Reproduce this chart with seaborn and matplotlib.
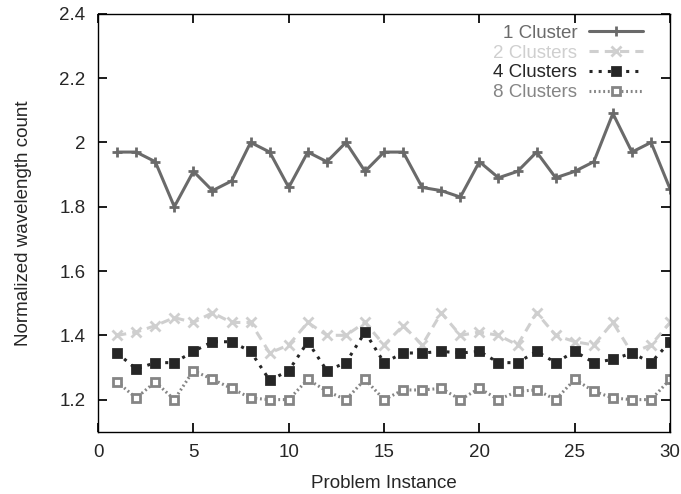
import matplotlib
matplotlib.use("Agg")
import matplotlib.pyplot as plt
from matplotlib.ticker import FormatStrFormatter
import numpy as np
import pandas as pd
import seaborn as sns

sns.set_theme(style="ticks")
plt.rcParams['font.family'] = ['Liberation Sans', 'DejaVu Sans']

instances = list(range(1, 31))
one_cluster = [1.97, 1.97, 1.94, 1.80, 1.91, 1.85, 1.88, 2.00, 1.97, 1.86,
               1.97, 1.94, 2.00, 1.91, 1.97, 1.97, 1.86, 1.85, 1.83, 1.94,
               1.89, 1.91, 1.97, 1.89, 1.91, 1.94, 2.09, 1.97, 2.00, 1.855]
two_clusters = [1.40, 1.41, 1.43, 1.455, 1.44, 1.47, 1.44, 1.44, 1.345, 1.37,
                1.44, 1.40, 1.40, 1.44, 1.37, 1.43, 1.37, 1.47, 1.40, 1.41,
                1.40, 1.37, 1.47, 1.40, 1.38, 1.37, 1.44, 1.345, 1.37, 1.44]
four_clusters = [1.345, 1.295, 1.315, 1.315, 1.35, 1.38, 1.38, 1.35, 1.26, 1.29,
                 1.38, 1.29, 1.315, 1.41, 1.315, 1.345, 1.345, 1.35, 1.345, 1.35,
                 1.315, 1.315, 1.35, 1.315, 1.35, 1.315, 1.325, 1.345, 1.315, 1.38]
eight_clusters = [1.255, 1.205, 1.255, 1.20, 1.29, 1.263, 1.235, 1.205, 1.20, 1.20,
                  1.263, 1.226, 1.20, 1.263, 1.20, 1.23, 1.23, 1.235, 1.20, 1.235,
                  1.20, 1.226, 1.23, 1.20, 1.263, 1.226, 1.205, 1.20, 1.20, 1.263]

labels = ["1 Cluster", "2 Clusters", "4 Clusters", "8 Clusters"]
series = [one_cluster, two_clusters, four_clusters, eight_clusters]
colors = ["#6a6a6a", "#cfcfcf", "#262626", "#858585"]
styles = ["-", (0, (3, 2)), (0, (1, 2)), (0, (0.6, 0.9))]
markers = ["+", "x", "s", "s"]
sizes = [7, 7, 5.5, 6]
mfcs = ["#6a6a6a", "#cfcfcf", "#262626", "white"]

fig = plt.figure(figsize=(6.81, 4.94), dpi=100)
ax = fig.add_axes([0.144, 0.126, 0.84, 0.846])

for lab, vals, c, ls, m, ms, mfc in zip(labels, series, colors, styles, markers, sizes, mfcs):
    df = pd.DataFrame({"x": instances, "y": vals})
    sns.lineplot(data=df, x="x", y="y", ax=ax, color=c, linestyle=ls, linewidth=2.2,
                 marker=m, markersize=ms, markerfacecolor=mfc, markeredgecolor=c,
                 markeredgewidth=2, label=lab)

ax.set_xlim(0, 30)
ax.set_ylim(1.1, 2.4)
ax.set_xticks(range(0, 31, 5))
ax.set_yticks(np.arange(1.2, 2.41, 0.2))
ax.yaxis.set_major_formatter(FormatStrFormatter('%g'))
ax.tick_params(direction="in", top=True, right=True, length=6.5, labelsize=13.5,
               color="black", pad=9)
ax.set_xlabel("Problem Instance", fontsize=13.5, labelpad=10)
ax.set_ylabel("Normalized wavelength count", fontsize=13.5, labelpad=20)
for s in ax.spines.values():
    s.set_color("black")
    s.set_linewidth(1)

leg = ax.legend(loc="upper right", bbox_to_anchor=(0.982, 1.015), frameon=False,
                markerfirst=False, fontsize=13.5, handlelength=2.9, handletextpad=0.6,
                labelspacing=0.15, borderaxespad=0.5)
for txt, c in zip(leg.get_texts(), colors):
    txt.set_color(c)
    txt.set_ha("right")
leg._legend_box.align = "right"

fig.savefig("out.png", dpi=100)
